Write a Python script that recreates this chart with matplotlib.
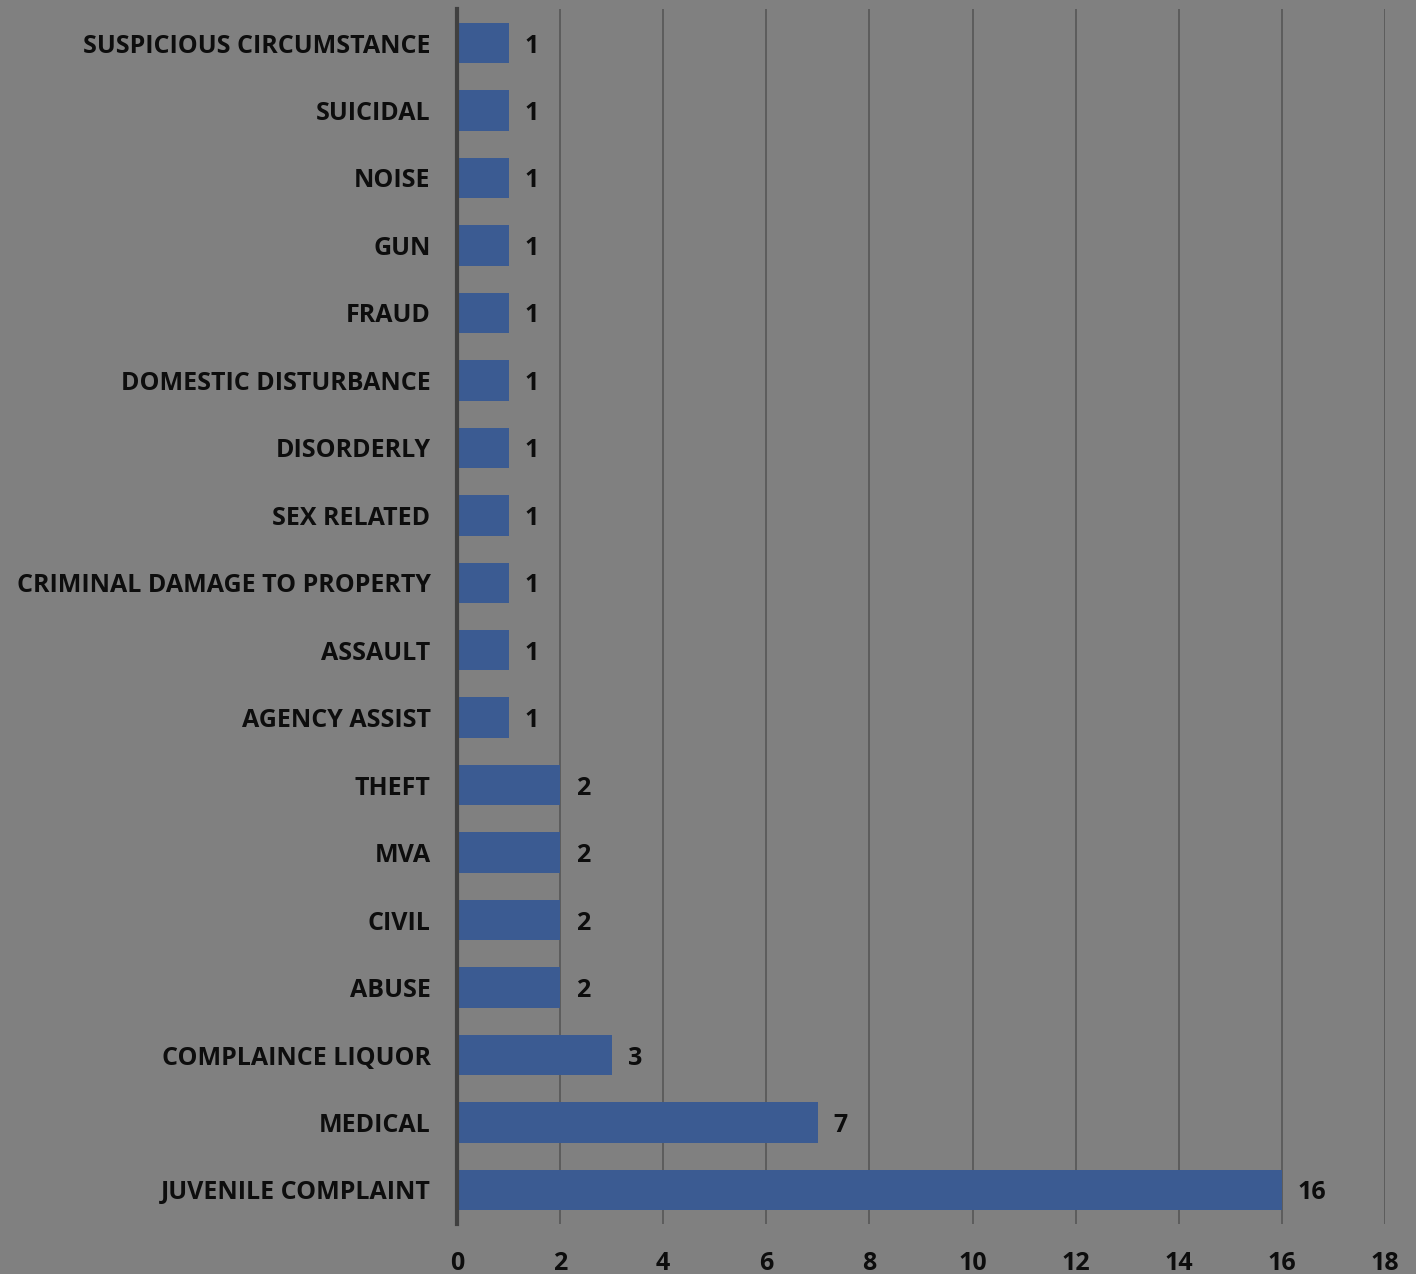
import matplotlib
matplotlib.use("Agg")
import matplotlib.pyplot as plt

categories = ["SUSPICIOUS CIRCUMSTANCE", "SUICIDAL", "NOISE", "GUN", "FRAUD",
              "DOMESTIC DISTURBANCE", "DISORDERLY", "SEX RELATED",
              "CRIMINAL DAMAGE TO PROPERTY", "ASSAULT", "AGENCY ASSIST",
              "THEFT", "MVA", "CIVIL", "ABUSE", "COMPLAINCE LIQUOR",
              "MEDICAL", "JUVENILE COMPLAINT"]
values = [1, 1, 1, 1, 1, 1, 1, 1, 1, 1, 1, 2, 2, 2, 2, 3, 7, 16]
xticks = [0, 2, 4, 6, 8, 10, 12, 14, 16, 18]

plt.rcParams['font.family'] = ['Open Sans', 'DejaVu Sans']
bg = '#808080'
fs = 18
fig = plt.figure(figsize=(14.16, 12.74), dpi=100, facecolor=bg)
ax = fig.add_axes([0.3227, 0.0395, 0.6554, 0.9532], facecolor=bg)

ypos = list(range(len(categories)))
ax.barh(ypos, values, height=0.6, color='#3B5B92', zorder=3)
ax.set_ylim(len(categories) - 0.5, -0.5)
ax.set_xlim(0, 18)
ax.set_xticks(xticks)
ax.set_xticklabels([str(t) for t in xticks], fontsize=fs, fontweight='bold', color='#0d0d0d')
ax.set_yticks(ypos)
ax.set_yticklabels(categories, fontsize=fs, fontweight='bold', color='#0d0d0d')
ax.tick_params(axis='both', length=0)
ax.tick_params(axis='y', pad=19)
ax.tick_params(axis='x', pad=20)
ax.grid(axis='x', color='#5a5a5a', linewidth=1.3, zorder=1)
for s in ['top', 'right', 'bottom']:
    ax.spines[s].set_visible(False)
ax.spines['left'].set_color('#404040')
ax.spines['left'].set_linewidth(3)
ax.spines['left'].set_zorder(4)

for y, v in zip(ypos, values):
    ax.annotate(str(v), (v, y), xytext=(16, 0), textcoords='offset pixels',
                va='center_baseline', ha='left', fontsize=fs, fontweight='bold', color='#0d0d0d')

fig.savefig('out.png', dpi=100, facecolor=bg)
